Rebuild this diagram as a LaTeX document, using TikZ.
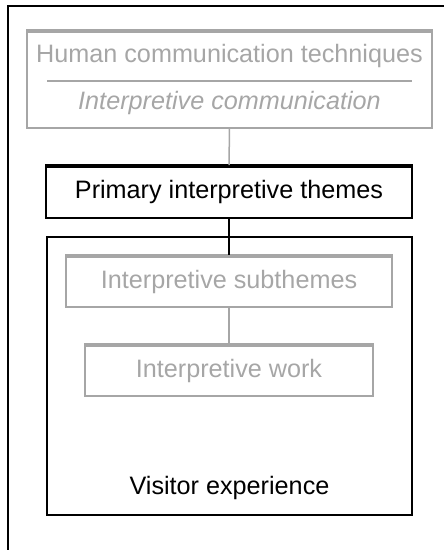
\documentclass[tikz,border=0pt]{standalone}
\usepackage{fontspec}
\setmainfont{Liberation Sans}
\definecolor{faded}{HTML}{A6A6A6}
\newcommand{\bigtxt}{\fontsize{25.2}{30}\selectfont}

\begin{document}
\begin{tikzpicture}[x=1pt,y=-1pt,
   box/.style={draw,line width=1.8pt,inner sep=0pt},
   fadedbox/.style={box,draw=faded,line width=1.5pt,text=faded},
   label/.style={inner sep=0pt,font=\bigtxt}]
   \useasboundingbox (0,0) rectangle (444,550);
   % outer frame, cut off on the right and below
   \draw[line width=1.8pt] (8,550) -- (8,6) -- (444,6);
   % top box with two lines of text
   \node[fadedbox,minimum width=405pt,minimum height=97pt] (tech) at (229.5,79.5) {};
   \draw[faded,line width=4pt] ([yshift=-1.2pt]tech.north west) -- ([yshift=-1.2pt]tech.north east);
   \node[label,text=faded] (human) at (229.5,56) {Human communication techniques};
   \draw[faded,line width=1.2pt] (47,81) -- (412,81);
   \node[label,text=faded] (interp) at (229.5,103) {\itshape Interpretive communication};
   % primary themes
   \node[box,minimum width=366pt,minimum height=52pt,font=\bigtxt] (prim) at (229,192) {Primary interpretive themes};
   \draw[line width=4pt] ([yshift=-1.2pt]prim.north west) -- ([yshift=-1.2pt]prim.north east);
   % visitor experience
   \node[box,minimum width=365pt,minimum height=278pt] (visit) at (229.5,376) {};
   \node[label] (vtxt) at (229.5,488) {Visitor experience};
   % subthemes and work
   \node[fadedbox,minimum width=326pt,minimum height=51pt,font=\bigtxt] (sub) at (229,281.5) {Interpretive subthemes};
   \draw[faded,line width=4pt] ([yshift=-1.2pt]sub.north west) -- ([yshift=-1.2pt]sub.north east);
   \node[fadedbox,minimum width=288pt,minimum height=51pt,font=\bigtxt] (work) at (229,370.5) {Interpretive work};
   \draw[faded,line width=4pt] ([yshift=-1.2pt]work.north west) -- ([yshift=-1.2pt]work.north east);
   % connectors
   \draw[faded,line width=1.5pt] (tech.south) -- (prim.north);
   \draw[line width=1.5pt] (prim.south) -- (sub.north);
   \draw[faded,line width=1.5pt] (sub.south) -- (work.north);
\end{tikzpicture}
\end{document}
